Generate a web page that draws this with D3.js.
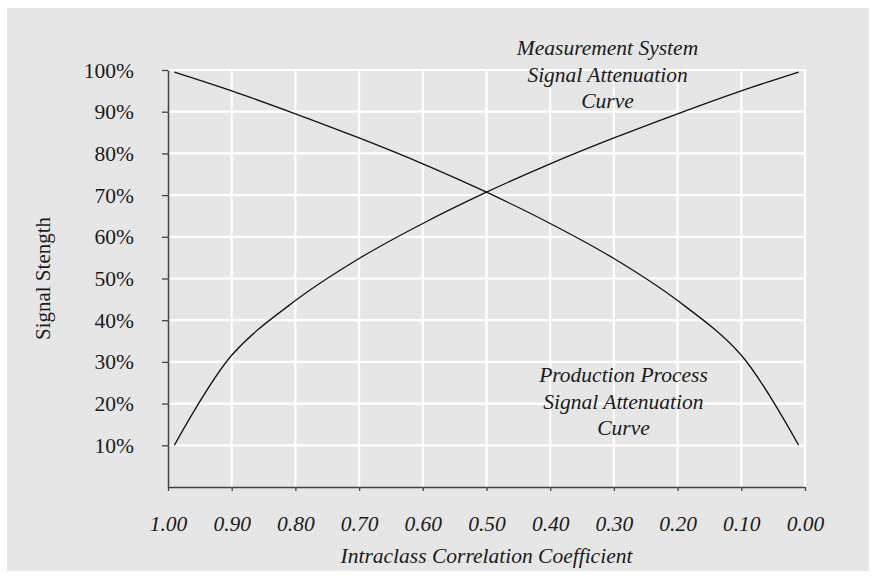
<!DOCTYPE html>
<html>
<head>
<meta charset="utf-8">
<script src="https://cdn.jsdelivr.net/npm/d3@7"></script>
<style>
  body { margin: 0; background: #fff; overflow: hidden; }
  svg { display: block; }
  text { font-family: "Liberation Serif", "DejaVu Serif", serif; fill: #1a1a1a; }
</style>
</head>
<body>
<svg id="plot" width="881" height="579"></svg>
<script>
const svg = d3.select('#plot');

// Data
const iccValues = [0.99, 0.90, 0.80, 0.70, 0.60, 0.50, 0.40, 0.30, 0.20, 0.10, 0.01];
const productionSignal = [0.995, 0.95, 0.895, 0.837, 0.775, 0.707, 0.632, 0.548, 0.447, 0.316, 0.10];
const measurementSignal = [0.10, 0.316, 0.447, 0.548, 0.632, 0.707, 0.775, 0.837, 0.895, 0.95, 0.995];
const xTicks = [1.0, 0.9, 0.8, 0.7, 0.6, 0.5, 0.4, 0.3, 0.2, 0.1, 0.0];
const yTicks = [0.1, 0.2, 0.3, 0.4, 0.5, 0.6, 0.7, 0.8, 0.9, 1.0];
const measurementLabel = ['Measurement System', 'Signal Attenuation', 'Curve'];
const productionLabel = ['Production Process', 'Signal Attenuation', 'Curve'];

// background panel
svg.append('rect')
    .attr('x', 7).attr('y', 8)
    .attr('width', 862).attr('height', 563)
    .attr('fill', '#e6e6e6');

const margin = {top: 70, left: 168};
const innerWidth = 805 - 168;
const innerHeight = 487 - 70;

const xScale = d3.scaleLinear()
    .domain([1, 0])
    .range([0, innerWidth]);

const yScale = d3.scaleLinear()
    .domain([0, 1])
    .range([innerHeight, 0]);

const g = svg.append('g')
    .attr('transform', `translate(${margin.left}, ${margin.top})`);

// grid
g.selectAll('.hgrid').data(yTicks)
  .enter().append('line')
    .attr('x1', 0).attr('x2', innerWidth)
    .attr('y1', d => yScale(d)).attr('y2', d => yScale(d))
    .attr('stroke', '#fff')
    .attr('stroke-width', 2.2);

g.selectAll('.vgrid').data(xTicks.slice(1))
  .enter().append('line')
    .attr('x1', d => xScale(d)).attr('x2', d => xScale(d))
    .attr('y1', 0).attr('y2', innerHeight)
    .attr('stroke', '#fff')
    .attr('stroke-width', 2.2);

// axes
const yAxis = d3.axisLeft(yScale)
    .tickValues(yTicks)
    .tickFormat(d3.format('.0%'))
    .tickSize(6)
    .tickPadding(28)
    .tickSizeOuter(0);

const yAxisG = g.append('g').call(yAxis)
    .attr('font-size', 21.5)
    .attr('font-family', '"Liberation Serif", serif');
yAxisG.selectAll('line').attr('stroke', '#444').attr('stroke-width', 1.3);
yAxisG.select('.domain').attr('stroke', '#444').attr('stroke-width', 1.5);
yAxisG.selectAll('text')
    .attr('dy', null)
    .attr('y', 7)
    .attr('fill', '#1a1a1a');

const xAxis = d3.axisBottom(xScale)
    .tickValues(xTicks)
    .tickFormat(d3.format('.2f'))
    .tickSize(4)
    .tickPadding(25)
    .tickSizeOuter(0);

const xAxisG = g.append('g')
    .attr('transform', `translate(0, ${innerHeight})`)
    .call(xAxis)
    .attr('font-size', 21.5)
    .attr('font-family', '"Liberation Serif", serif');
xAxisG.selectAll('line').attr('stroke', '#444').attr('stroke-width', 1.3);
xAxisG.select('.domain').attr('stroke', '#444').attr('stroke-width', 1.5);
xAxisG.selectAll('text')
    .attr('dy', null)
    .attr('y', 44)
    .attr('font-style', 'italic')
    .attr('fill', '#1a1a1a');

// axis titles
g.append('text')
    .attr('x', innerWidth / 2)
    .attr('y', innerHeight + 76)
    .attr('text-anchor', 'middle')
    .attr('font-size', '21.5px')
    .attr('font-style', 'italic')
    .text('Intraclass Correlation Coefficient');

g.append('text')
    .attr('transform', `translate(${-118}, ${innerHeight / 2}) rotate(-90)`)
    .attr('text-anchor', 'middle')
    .attr('font-size', '21px')
    .text('Signal Stength');

// curves
const line = d3.line()
    .x(d => xScale(d[0]))
    .y(d => yScale(d[1]))
    .curve(d3.curveCatmullRom.alpha(0.5));

[productionSignal, measurementSignal].forEach(series => {
    g.append('path')
        .datum(iccValues.map((v, i) => [v, series[i]]))
        .attr('d', line)
        .attr('fill', 'none')
        .attr('stroke', '#111')
        .attr('stroke-width', 1.3);
});

// annotations
const annotate = (lines, cx, y0) => {
    const t = g.append('text')
        .attr('text-anchor', 'middle')
        .attr('font-size', '21.5px')
        .attr('font-style', 'italic');
    lines.forEach((s, i) => {
        t.append('tspan')
            .attr('x', cx)
            .attr('y', y0 + i * 26.5)
            .text(s);
    });
};

annotate(measurementLabel, xScale(0.31), 55 - margin.top);
annotate(productionLabel, xScale(0.285), 382 - margin.top);
</script>
</body>
</html>
